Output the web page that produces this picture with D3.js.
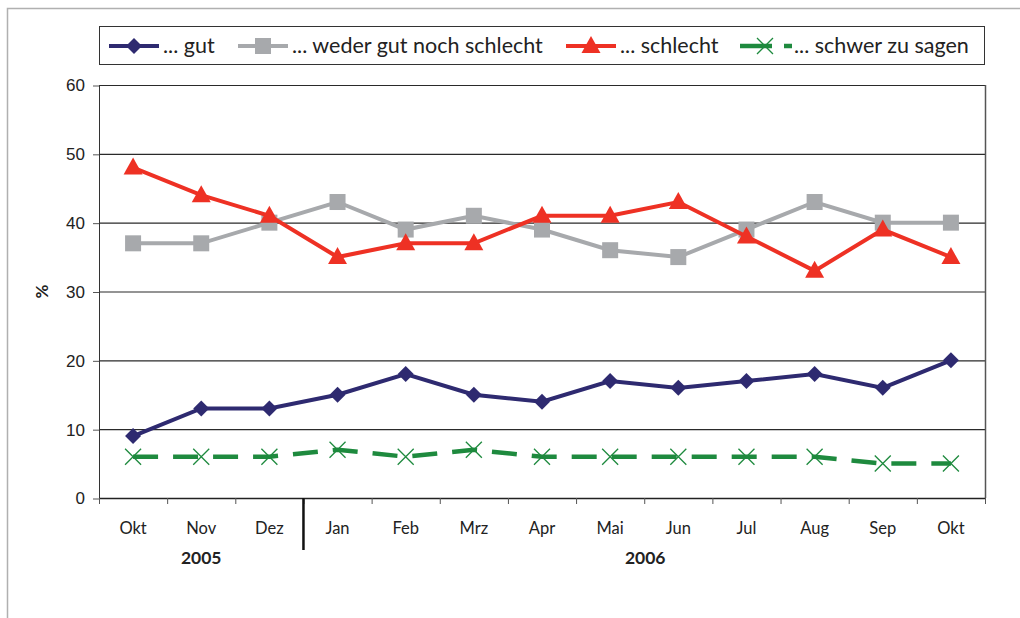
<!DOCTYPE html>
<html>
<head>
<meta charset="utf-8">
<script src="https://cdn.jsdelivr.net/npm/d3@7"></script>
<style>
  body { margin: 0; background: #fff; }
  svg { font-family: "Lato", "DejaVu Sans", sans-serif; }
</style>
</head>
<body>
<svg width="1020" height="618"></svg>
<script>
  var months = ["Okt", "Nov", "Dez", "Jan", "Feb", "Mrz", "Apr", "Mai", "Jun", "Jul", "Aug", "Sep", "Okt"];
  var years = [{ label: "2005", from: 0, to: 3 }, { label: "2006", from: 3, to: 13 }];
  var gut = [9, 13, 13, 15, 18, 15, 14, 17, 16, 17, 18, 16, 20];
  var weder = [37, 37, 40, 43, 39, 41, 39, 36, 35, 39, 43, 40, 40];
  var schlecht = [48, 44, 41, 35, 37, 37, 41, 41, 43, 38, 33, 39, 35];
  var schwer = [6, 6, 6, 7, 6, 7, 6, 6, 6, 6, 6, 5, 5];
  var yTicks = [0, 10, 20, 30, 40, 50, 60];

  var series = [
    { name: "... gut", values: gut, color: "#2e2a70", marker: "diamond", dash: null },
    { name: "... weder gut noch schlecht", values: weder, color: "#a7a9ac", marker: "square", dash: null },
    { name: "... schlecht", values: schlecht, color: "#ee3124", marker: "triangle", dash: null },
    { name: "... schwer zu sagen", values: schwer, color: "#1e8a3e", marker: "cross", dash: "25,15" }
  ];

  var plotLeft = 99, plotRight = 985, plotTop = 85, plotBottom = 498;
  var svg = d3.select("svg");

  // outer frame
  svg.append("path")
      .attr("d", "M7.5,618 L7.5,8.5 L1020,8.5")
      .attr("fill", "none").attr("stroke", "#b0b0b0").attr("stroke-width", 1.5);

  var x = d3.scaleBand().domain(d3.range(months.length)).range([plotLeft, plotRight]);
  var y = d3.scaleLinear().domain([0, 60]).range([plotBottom, plotTop]);
  var cx = function(i) { return x(i) + x.bandwidth() / 2; };

  // grid
  svg.selectAll("line.grid")
      .data(yTicks)
      .enter().append("line")
      .attr("class", "grid")
      .attr("x1", plotLeft).attr("x2", plotRight)
      .attr("y1", function(d) { return y(d) + 0.5; })
      .attr("y2", function(d) { return y(d) + 0.5; })
      .attr("stroke", "#2a2a2a").attr("stroke-width", 1.1);

  // plot frame sides
  svg.append("line").attr("x1", plotLeft + 0.5).attr("x2", plotLeft + 0.5).attr("y1", plotTop).attr("y2", plotBottom)
      .attr("stroke", "#333");
  svg.append("line").attr("x1", plotRight + 0.5).attr("x2", plotRight + 0.5).attr("y1", plotTop).attr("y2", plotBottom)
      .attr("stroke", "#555").attr("stroke-width", 1.5);
  svg.append("line").attr("x1", plotLeft).attr("x2", plotRight).attr("y1", plotBottom + 0.5).attr("y2", plotBottom + 0.5)
      .attr("stroke", "#222").attr("stroke-width", 1.5);

  // y axis
  var yAxis = d3.axisLeft(y).tickValues(yTicks).tickSize(6).tickPadding(8);
  var gy = svg.append("g").attr("transform", "translate(" + plotLeft + ",0.5)").call(yAxis);
  gy.select(".domain").remove();
  gy.selectAll("line").attr("stroke", "#555");
  gy.selectAll("text").attr("font-size", 17).attr("fill", "#222");

  svg.append("text")
      .attr("transform", "translate(48," + y(30) + ") rotate(-90)")
      .attr("text-anchor", "middle")
      .attr("font-size", 17).attr("font-weight", "bold").attr("fill", "#222")
      .text("%");

  // x ticks at band boundaries
  var bounds = d3.range(months.length + 1);
  svg.selectAll("line.xtick")
      .data(bounds)
      .enter().append("line")
      .attr("class", "xtick")
      .attr("x1", function(i) { return i < months.length ? x(i) + 0.5 : plotRight + 0.5; })
      .attr("x2", function(i) { return i < months.length ? x(i) + 0.5 : plotRight + 0.5; })
      .attr("y1", plotBottom).attr("y2", plotBottom + 6)
      .attr("stroke", "#555");

  svg.selectAll("text.month")
      .data(months)
      .enter().append("text")
      .attr("class", "month")
      .attr("x", function(d, i) { return cx(i); })
      .attr("y", 534)
      .attr("text-anchor", "middle")
      .attr("font-size", 16.5).attr("fill", "#222")
      .text(function(d) { return d; });

  // year separator
  svg.append("line")
      .attr("x1", x(3)).attr("x2", x(3))
      .attr("y1", plotBottom).attr("y2", 550)
      .attr("stroke", "#111").attr("stroke-width", 2.5);

  svg.selectAll("text.year")
      .data(years)
      .enter().append("text")
      .attr("class", "year")
      .attr("x", function(d) { return (d.from === 0 ? cx(1) : (cx(d.from) + cx(d.to - 1)) / 2 + 1); })
      .attr("y", 564)
      .attr("text-anchor", "middle")
      .attr("font-size", 17.5).attr("font-weight", "bold").attr("fill", "#222")
      .text(function(d) { return d.label; });

  function drawMarker(g, type, color, px, py) {
    if (type === "diamond") {
      g.append("path").attr("d", "M" + px + "," + (py - 8) + " L" + (px + 8) + "," + py + " L" + px + "," + (py + 8) + " L" + (px - 8) + "," + py + "Z")
          .attr("fill", color);
    } else if (type === "square") {
      g.append("rect").attr("x", px - 8).attr("y", py - 8).attr("width", 16).attr("height", 16).attr("fill", color);
    } else if (type === "triangle") {
      g.append("path").attr("d", "M" + px + "," + (py - 10) + " L" + (px + 9.5) + "," + (py + 7) + " L" + (px - 9.5) + "," + (py + 7) + "Z")
          .attr("fill", color);
    } else if (type === "cross") {
      g.append("path").attr("d", "M" + (px - 8) + "," + (py - 8) + " L" + (px + 8) + "," + (py + 8) + " M" + (px + 8) + "," + (py - 8) + " L" + (px - 8) + "," + (py + 8))
          .attr("stroke", color).attr("stroke-width", 1.3).attr("fill", "none");
    }
  }

  var line = d3.line()
      .x(function(d, i) { return cx(i); })
      .y(function(d) { return y(d); });

  // draw in order: green at bottom, then gut, gray, red on top
  var order = [3, 0, 1, 2];
  order.forEach(function(k) {
    var s = series[k];
    var g = svg.append("g");
    g.append("path")
        .datum(s.values)
        .attr("d", line)
        .attr("fill", "none")
        .attr("stroke", s.color)
        .attr("stroke-width", s.dash ? 4.5 : 4)
        .attr("stroke-dasharray", s.dash);
    s.values.forEach(function(v, i) { drawMarker(g, s.marker, s.color, cx(i), y(v)); });
  });

  // legend
  svg.append("rect")
      .attr("x", 99.5).attr("y", 26.5).attr("width", 885).attr("height", 38)
      .attr("fill", "#fff").attr("stroke", "#333").attr("stroke-width", 1);

  var legendX = [109, 238, 566, 740];
  series.forEach(function(s, k) {
    var g = svg.append("g");
    var lx = legendX[k], ly = 46;
    if (s.dash) {
      g.append("line").attr("x1", lx).attr("x2", lx + 32).attr("y1", ly).attr("y2", ly)
          .attr("stroke", s.color).attr("stroke-width", 4.5);
      g.append("line").attr("x1", lx + 44).attr("x2", lx + 52).attr("y1", ly).attr("y2", ly)
          .attr("stroke", s.color).attr("stroke-width", 4.5);
    } else {
      g.append("line").attr("x1", lx).attr("x2", lx + 50).attr("y1", ly).attr("y2", ly)
          .attr("stroke", s.color).attr("stroke-width", 4);
    }
    drawMarker(g, s.marker, s.color, lx + 25, ly);
    g.append("text")
        .attr("x", lx + 54).attr("y", ly + 7)
        .attr("font-size", 21.5).attr("fill", "#222")
        .text(s.name);
  });
</script>
</body>
</html>
